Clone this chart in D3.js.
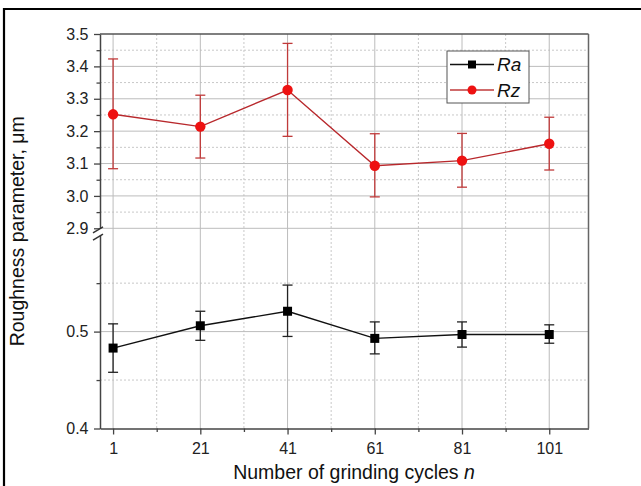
<!DOCTYPE html>
<html><head><meta charset="utf-8">
<script src="https://cdn.jsdelivr.net/npm/d3@7"></script>
<style>
body{margin:0;background:#fff;}
text{font-family:"Liberation Sans",Arial,sans-serif;}
</style></head>
<body>
<svg id="c" width="641" height="486"></svg>
<script>
const cycles = [1, 21, 41, 61, 81, 101];
const raValues = [0.483, 0.506, 0.521, 0.493, 0.497, 0.497];
const raLow    = [0.458, 0.491, 0.495, 0.477, 0.484, 0.488];
const raHigh   = [0.508, 0.521, 0.548, 0.510, 0.510, 0.507];
const rzValues = [3.252, 3.214, 3.327, 3.093, 3.109, 3.161];
const rzLow    = [3.084, 3.117, 3.184, 2.997, 3.027, 3.080];
const rzHigh   = [3.423, 3.311, 3.471, 3.192, 3.193, 3.243];
const xTicks = [1, 21, 41, 61, 81, 101];
const xMinor = [11, 31, 51, 71, 91];
const yUpperTicks = [2.9, 3.0, 3.1, 3.2, 3.3, 3.4, 3.5];
const yUpperMinor = [2.95, 3.05, 3.15, 3.25, 3.35, 3.45];
const yLowerTicks = [0.4, 0.5];
const yLowerMinor = [0.45, 0.55];
const seriesNames = ["Ra", "Rz"];

const svg = d3.select("#c");
const L = 100, R = 588.5, T = 34, B = 428.5;
const upperBottom = 228.3, lowerTop = 234.7;

const x = d3.scaleLinear().domain([-2, 110]).range([L, R]);
const yU = d3.scaleLinear().domain([2.9, 3.5]).range([upperBottom, T]);
const yL = d3.scaleLinear().domain([0.4, 0.6]).range([B, lowerTop]);

// outer frame (cropped figure border)
svg.append("path").attr("d", `M4,490 L4,9 L645,9`).attr("fill","none")
  .attr("stroke","#000").attr("stroke-width",2.2);

const grid = svg.append("g");
function hline(y, dotted){
  grid.append("line").attr("x1",L).attr("x2",R).attr("y1",y).attr("y2",y)
    .attr("stroke", dotted ? "#c8c8c8" : "#bcbcbc").attr("stroke-width",1)
    .attr("stroke-dasharray", dotted ? "2,2" : null);
}
function vline(xx, dotted){
  grid.append("line").attr("y1",T).attr("y2",B).attr("x1",xx).attr("x2",xx)
    .attr("stroke", dotted ? "#c8c8c8" : "#bcbcbc").attr("stroke-width",1)
    .attr("stroke-dasharray", dotted ? "2,2" : null);
}
yUpperMinor.forEach(v=>hline(yU(v),true));
yLowerMinor.forEach(v=>hline(yL(v),true));
xMinor.forEach(v=>vline(x(v),true));
yUpperTicks.filter(v=>v<3.5).forEach(v=>hline(yU(v),false));
yLowerTicks.filter(v=>v>0.4).forEach(v=>hline(yL(v),false));
xTicks.forEach(v=>vline(x(v),false));

// frame top/right
svg.append("line").attr("x1",L).attr("x2",R).attr("y1",T).attr("y2",T).attr("stroke","#555").attr("stroke-width",1.5);
svg.append("line").attr("x1",R).attr("x2",R).attr("y1",T).attr("y2",B).attr("stroke","#666").attr("stroke-width",1.5);

function styleAxis(g){
  g.attr("font-size",null).attr("font-family",null);
  g.select(".domain").attr("stroke","#444").attr("stroke-width",1.5);
  g.selectAll(".tick line").attr("stroke","#444").attr("stroke-width",1.3);
  g.selectAll(".tick text").attr("fill","#222").style("font-size","16px");
}
// x axis
const gx = svg.append("g").attr("transform",`translate(0,${B})`)
  .call(d3.axisBottom(x).tickValues(xTicks).tickSize(6).tickSizeOuter(0).tickPadding(8.5).tickFormat(d3.format("d")));
styleAxis(gx);
const gxm = svg.append("g").attr("transform",`translate(0,${B})`)
  .call(d3.axisBottom(x).tickValues(xMinor).tickSize(3.5).tickSizeOuter(0).tickFormat(""));
styleAxis(gxm); gxm.select(".domain").remove();

// y upper
const gyu = svg.append("g").attr("transform",`translate(${L},0)`)
  .call(d3.axisLeft(yU).tickValues(yUpperTicks).tickSize(6).tickSizeOuter(0).tickPadding(5.5).tickFormat(d3.format(".1f")));
styleAxis(gyu);
const gyum = svg.append("g").attr("transform",`translate(${L},0)`)
  .call(d3.axisLeft(yU).tickValues(yUpperMinor).tickSize(3.5).tickSizeOuter(0).tickFormat(""));
styleAxis(gyum); gyum.select(".domain").remove();
// y lower
const gyl = svg.append("g").attr("transform",`translate(${L},0)`)
  .call(d3.axisLeft(yL).tickValues(yLowerTicks).tickSize(6).tickSizeOuter(0).tickPadding(5.5).tickFormat(d3.format(".1f")));
styleAxis(gyl);
const gylm = svg.append("g").attr("transform",`translate(${L},0)`)
  .call(d3.axisLeft(yL).tickValues(yLowerMinor).tickSize(3.5).tickSizeOuter(0).tickFormat(""));
styleAxis(gylm); gylm.select(".domain").remove();

// break marks
const brk = svg.append("g");
brk.append("rect").attr("x",L-3).attr("y",upperBottom+1).attr("width",6).attr("height",lowerTop-upperBottom-1).attr("fill","#fff");
[upperBottom+1, lowerTop+2].forEach(yy=>{
  brk.append("line").attr("x1",L-7).attr("y1",yy+3.5).attr("x2",L+3).attr("y2",yy-2.5)
    .attr("stroke","#333").attr("stroke-width",1.5);
});

// data series
function drawSeries(yScale, vals, lo, hi, lineColor, errColor, marker, fill){
  const g = svg.append("g");
  g.append("path").datum(cycles.map((c,i)=>[c, vals[i]]))
    .attr("d", d3.line().x(d=>x(d[0])).y(d=>yScale(d[1])))
    .attr("fill","none").attr("stroke",lineColor).attr("stroke-width",1.4);
  cycles.forEach((c,i)=>{
    const cx = x(c);
    g.append("line").attr("x1",cx).attr("x2",cx).attr("y1",yScale(lo[i])).attr("y2",yScale(hi[i]))
      .attr("stroke",errColor).attr("stroke-width",1.3);
    [lo[i],hi[i]].forEach(v=>{
      g.append("line").attr("x1",cx-5).attr("x2",cx+5).attr("y1",yScale(v)).attr("y2",yScale(v))
        .attr("stroke",errColor).attr("stroke-width",1.3);
    });
  });
  cycles.forEach((c,i)=>{
    if(marker==="square"){
      g.append("rect").attr("x",x(c)-4.5).attr("y",yScale(vals[i])-4.5).attr("width",9).attr("height",9).attr("fill",fill);
    } else {
      g.append("circle").attr("cx",x(c)).attr("cy",yScale(vals[i])).attr("r",5.2).attr("fill",fill);
    }
  });
}
drawSeries(yL, raValues, raLow, raHigh, "#111", "#222", "square", "#000");
drawSeries(yU, rzValues, rzLow, rzHigh, "#b8282c", "#c03a3a", "circle", "#ee1111");

// legend
const lg = svg.append("g");
lg.append("rect").attr("x",447).attr("y",51).attr("width",82).attr("height",52)
  .attr("fill","#fff").attr("stroke","#555").attr("stroke-width",1);
const legendRows = [{name:seriesNames[0], color:"#111", marker:"square", fill:"#000", y:64.5},
                    {name:seriesNames[1], color:"#c03a3a", marker:"circle", fill:"#ee1111", y:90}];
legendRows.forEach(r=>{
  lg.append("line").attr("x1",450).attr("x2",494).attr("y1",r.y).attr("y2",r.y).attr("stroke",r.color).attr("stroke-width",1.3);
  if(r.marker==="square") lg.append("rect").attr("x",468).attr("y",r.y-4).attr("width",8).attr("height",8).attr("fill",r.fill);
  else lg.append("circle").attr("cx",472).attr("cy",r.y).attr("r",4.5).attr("fill",r.fill);
  lg.append("text").attr("x",497).attr("y",r.y+6.5).attr("font-style","italic").style("font-size","19px").attr("fill","#111").text(r.name);
});

// axis titles
svg.append("text").attr("transform",`translate(24,${(T+B)/2}) rotate(-90)`).attr("text-anchor","middle")
  .style("font-size","19.5px").attr("fill","#111").text("Roughness parameter, μm");
const xt = svg.append("text").attr("x",354).attr("y",479).attr("text-anchor","middle")
  .style("font-size","19.5px").attr("fill","#111");
xt.append("tspan").text("Number of grinding cycles ");
xt.append("tspan").attr("font-style","italic").text("n");
</script>
</body></html>
